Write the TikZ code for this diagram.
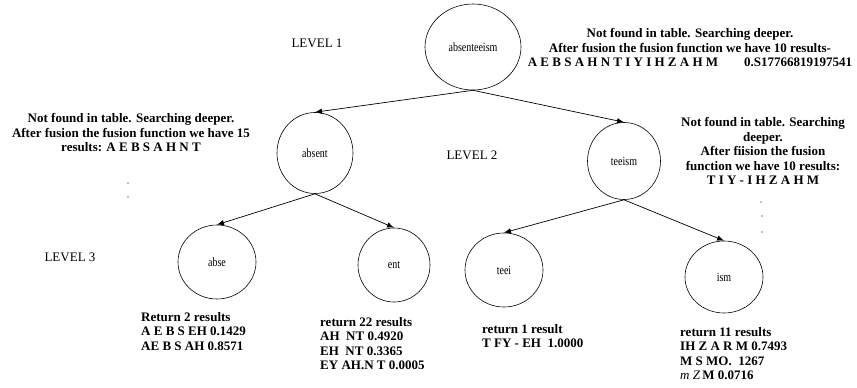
\documentclass[tikz,border=0pt]{standalone}
\usepackage{fontspec}
\setmainfont{Liberation Serif}
\newfontfamily\narrowserif[FakeStretch=0.8]{Liberation Serif}
\usetikzlibrary{arrows.meta,shapes.geometric}
\begin{document}
\begin{tikzpicture}[x=1pt,y=-1pt,
  word/.style={draw, ellipse, line width=0.6pt, inner sep=0pt, font=\narrowserif\fontsize{12.5}{14}\selectfont},
  edge/.style={-{Latex[length=7pt,width=5.5pt]}, line width=0.7pt},
  note/.style={font=\bfseries\fontsize{13}{14.5}\selectfont, align=center, inner sep=0pt},
  res/.style={font=\bfseries\fontsize{13}{14.5}\selectfont, align=left, anchor=north west, inner sep=0pt},
  lvl/.style={font=\fontsize{13}{14}\selectfont, inner sep=0pt},
  speck/.style={fill=black, circle, inner sep=0pt, minimum size=1.3pt}]
\useasboundingbox (0,0) rectangle (857,388);
% nodes
\node[word, minimum width=96, minimum height=86] (root) at (473,47) {absenteeism};
\node[word, minimum width=76, minimum height=81] (absent) at (315,153) {absent};
\node[word, minimum width=73, minimum height=77] (teeism) at (624,161) {teeism};
\node[word, minimum width=78, minimum height=74] (abse) at (217,262) {abse};
\node[word, minimum width=72, minimum height=74] (ent) at (394,265) {ent};
\node[word, minimum width=78, minimum height=74] (teei) at (504,270) {teei};
\node[word, minimum width=78, minimum height=72] (ism) at (724,277) {ism};
% connectors
\draw[edge] (root.south) -- (absent.north);
\draw[edge] (root.south) -- (teeism.north);
\draw[edge] (absent.south) -- (abse.north);
\draw[edge] (absent.south) -- (ent.north);
\draw[edge] (teeism.south) -- (teei.north);
\draw[edge] (teeism.south) -- (ism.north);
% level labels
\node[lvl] (l1) at (317,43) {LEVEL 1};
\node[lvl] (l2) at (472,155) {LEVEL 2};
\node[lvl] (l3) at (70,257) {LEVEL 3};
% notes
\node[note] (n1) at (690,48) {Not found in table. Searching deeper.\\
After fusion the fusion function we have 10 results-\\
A E B S A H N T I Y I H Z A H M\hspace{2em}0.S17766819197541};
\node[note] (n2) at (131,133) {Not found in table. Searching deeper.\\
After fusion the fusion function we have 15\\
results: A E B S A H N T};
\node[note] (n3) at (763,151) {Not found in table. Searching\\
deeper.\\
After fiision the fusion\\
function we have 10 results:\\
T I Y - I H Z A H M};
% results
\node[res] (r1) at (141,312) {Return 2 results\\
A E B S EH 0.1429\\
AE B S AH 0.8571};
\node[res] (r2) at (320,317) {return 22 results\\
AH\ \ NT 0.4920\\
EH\ \ NT 0.3365\\
EY AH.N T 0.0005};
\node[res] (r3) at (482,324) {return 1 result\\
T FY - EH\ \ 1.0000};
\node[res] (r4) at (680,327) {return 11 results\\
IH Z A R M 0.7493\\
M S MO.\ \ 1267\\
\textmd{\textit{m Z}}\,M 0.0716};
% specks
\node[speck] (s1) at (128,183) {};
\node[speck] (s2) at (128,197) {};
\node[speck] (s3) at (761,202) {};
\node[speck] (s4) at (762,216) {};
\node[speck] (s5) at (762,232) {};
\end{tikzpicture}
\end{document}
